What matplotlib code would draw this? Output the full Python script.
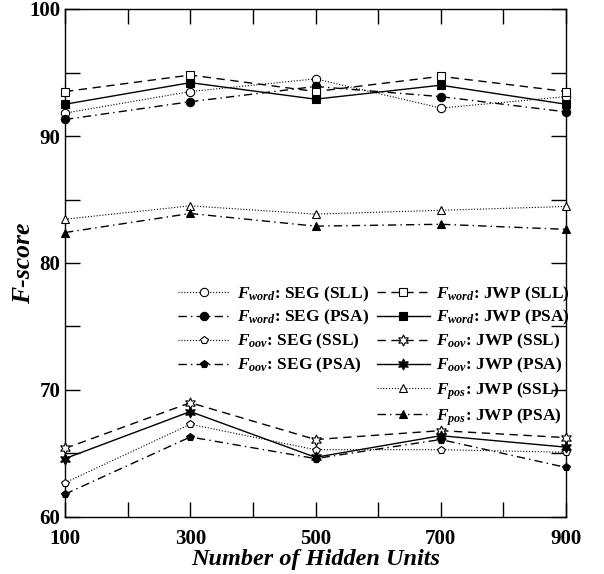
import matplotlib
matplotlib.use("Agg")
import matplotlib.pyplot as plt
from matplotlib.lines import Line2D

# datos
units = [100, 300, 500, 700, 900]

fword_seg_sll = [91.8, 93.5, 94.5, 92.2, 93.1]
fword_seg_psa = [91.3, 92.7, 93.9, 93.1, 91.9]
foov_seg_ssl = [62.7, 67.3, 65.3, 65.3, 65.1]
foov_seg_psa = [61.8, 66.3, 64.6, 66.1, 63.9]
fword_jwp_sll = [93.5, 94.8, 93.5, 94.7, 93.5]
fword_jwp_psa = [92.5, 94.2, 92.9, 94.0, 92.5]
foov_jwp_ssl = [65.4, 69.0, 66.1, 66.8, 66.25]
foov_jwp_psa = [64.6, 68.3, 64.7, 66.4, 65.5]
fpos_jwp_ssl = [83.45, 84.5, 83.85, 84.15, 84.45]
fpos_jwp_psa = [82.4, 83.9, 82.9, 83.05, 82.65]

plt.rcParams["font.family"] = "Liberation Serif"
plt.rcParams["font.weight"] = "bold"
plt.rcParams["mathtext.fontset"] = "custom"
plt.rcParams["mathtext.rm"] = "Liberation Serif:bold"
plt.rcParams["mathtext.it"] = "Liberation Serif:italic:bold"
plt.rcParams["mathtext.bf"] = "Liberation Serif:bold"
plt.rcParams["mathtext.bfit"] = "Liberation Serif:italic:bold"

dotted = (0, (1, 1.6))
dashed = (0, (6, 4))
dashdot = (0, (6, 3, 1, 3))
star = (6, 1, 0)

fig = plt.figure(figsize=(6.04, 5.74), dpi=100)
ax = fig.add_axes([65 / 604, 57 / 574, 501 / 604, 508 / 574])

def F(sub):
    return r"$\mathbfit{F}_{\mathbfit{" + sub + "}}$"

series = [
    (fword_seg_sll, dotted, "o", "white", 0.8, F("word") + ": SEG (SLL)"),
    (fword_seg_psa, dashdot, "o", "black", 1.0, F("word") + ": SEG (PSA)"),
    (foov_seg_ssl, dotted, "p", "white", 0.8, F("oov") + ": SEG (SSL)"),
    (foov_seg_psa, dashdot, "p", "black", 1.0, F("oov") + ": SEG (PSA)"),
    (fword_jwp_sll, dashed, "s", "white", 1.0, F("word") + ": JWP (SLL)"),
    (fword_jwp_psa, "-", "s", "black", 1.0, F("word") + ": JWP (PSA)"),
    (foov_jwp_ssl, dashed, star, "white", 1.0, F("oov") + ": JWP (SSL)"),
    (foov_jwp_psa, "-", star, "black", 1.0, F("oov") + ": JWP (PSA)"),
    (fpos_jwp_ssl, dotted, "^", "white", 0.8, F("pos") + ": JWP (SSL)"),
    (fpos_jwp_psa, dashdot, "^", "black", 1.0, F("pos") + ": JWP (PSA)"),
]

handles = []
for vals, ls, mk, fc, lw, lab in series:
    ms = 8 if mk == star else 6
    h, = ax.plot(units, vals, color="black", linestyle=ls, linewidth=lw,
                 marker=mk, markersize=ms, markerfacecolor=fc,
                 markeredgecolor="black", markeredgewidth=0.8,
                 label=lab, clip_on=False, zorder=3)
    handles.append(h)

# primera columna: 4 entradas + 2 vacias
blank = Line2D([], [], linestyle="none", marker="none")
hs = handles[:4] + [blank, blank] + handles[4:]
labs = [h.get_label() for h in handles[:4]] + ["", ""] + [h.get_label() for h in handles[4:]]
ax.legend(hs, labs, ncol=2, loc="upper left", bbox_to_anchor=(0.225, 0.458),
          frameon=False, fontsize=12.5, handlelength=3.0, handletextpad=0.4,
          columnspacing=0.5, labelspacing=0.27, borderpad=0, borderaxespad=0)

ax.set_xlim(100, 900)
ax.set_ylim(60, 100)
ax.set_xticks([100, 300, 500, 700, 900])
ax.set_xticks([200, 400, 600, 800], minor=True)
ax.set_yticks([60, 70, 80, 90, 100])
ax.set_yticks([65, 75, 85, 95], minor=True)
ax.tick_params(which="both", direction="in", length=11, width=1,
               top=True, right=True, labelsize=15)
ax.tick_params(axis="x", pad=9)
for lab in ax.get_xticklabels() + ax.get_yticklabels():
    lab.set_fontweight("bold")
for s in ax.spines.values():
    s.set_linewidth(1)

ax.set_xlabel("Number of Hidden Units", fontsize=17.5, fontweight="bold",
              fontstyle="italic", labelpad=0)
ax.set_ylabel("F-score", fontsize=18.5, fontweight="bold", fontstyle="italic",
              labelpad=-4)

fig.savefig("out.png", dpi=100)
